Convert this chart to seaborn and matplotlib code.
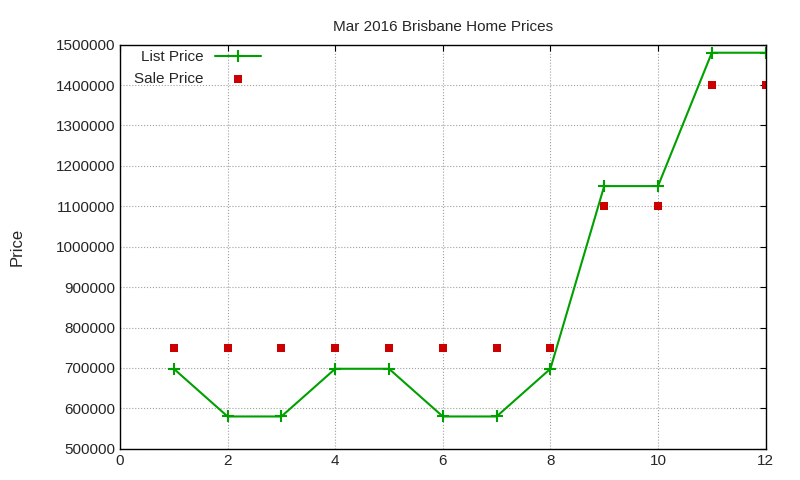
import matplotlib
matplotlib.use("Agg")
import matplotlib.pyplot as plt
import seaborn as sns
import pandas as pd

months = [1, 2, 3, 4, 5, 6, 7, 8, 9, 10, 11, 12]
list_price = [698000, 580000, 580000, 698000, 698000, 580000, 580000, 698000, 1150000, 1150000, 1480000, 1480000]
sale_price = [750000, 750000, 750000, 750000, 750000, 750000, 750000, 750000, 1100000, 1100000, 1400000, 1400000]

df = pd.DataFrame({"x": months, "list": list_price, "sale": sale_price})

sns.set_style("white")
plt.rcParams['font.family'] = ['Liberation Sans', 'DejaVu Sans']
fig = plt.figure(figsize=(8, 4.8), dpi=100)
ax = fig.add_axes([0.15, 0.065, 0.807, 0.842])
sns.lineplot(data=df, x="x", y="list", ax=ax, color="#00a000", marker="+", markersize=8,
             markeredgewidth=1.5, markeredgecolor="#00a000", linewidth=1.5, label="List Price")
sns.scatterplot(data=df, x="x", y="sale", ax=ax, color="#cc0000", marker="s", s=36,
                edgecolor="#cc0000", linewidth=0, label="Sale Price")
ax.set_xlim(0, 12)
ax.set_ylim(500000, 1500000)
ax.set_xticks(range(0, 13, 2))
ax.set_yticks(range(500000, 1500001, 100000))
ax.ticklabel_format(style="plain", axis="y")
ax.grid(True, color="#a0a0a0", linestyle=":", linewidth=0.8)
for s in ax.spines.values():
    s.set_color("black"); s.set_linewidth(1)
ax.tick_params(direction="in", length=4, labelsize=11, top=True, right=True, color="black")
ax.set_xlabel("")
ax.set_ylabel("Price", fontsize=12, labelpad=22)
ax.set_title("Mar 2016 Brisbane Home Prices", fontsize=11, pad=10)
leg = ax.legend(loc="upper left", frameon=False, fontsize=11, markerfirst=False,
                bbox_to_anchor=(0.0, 1.02), handlelength=3)
fig.savefig("out.png", dpi=100)
